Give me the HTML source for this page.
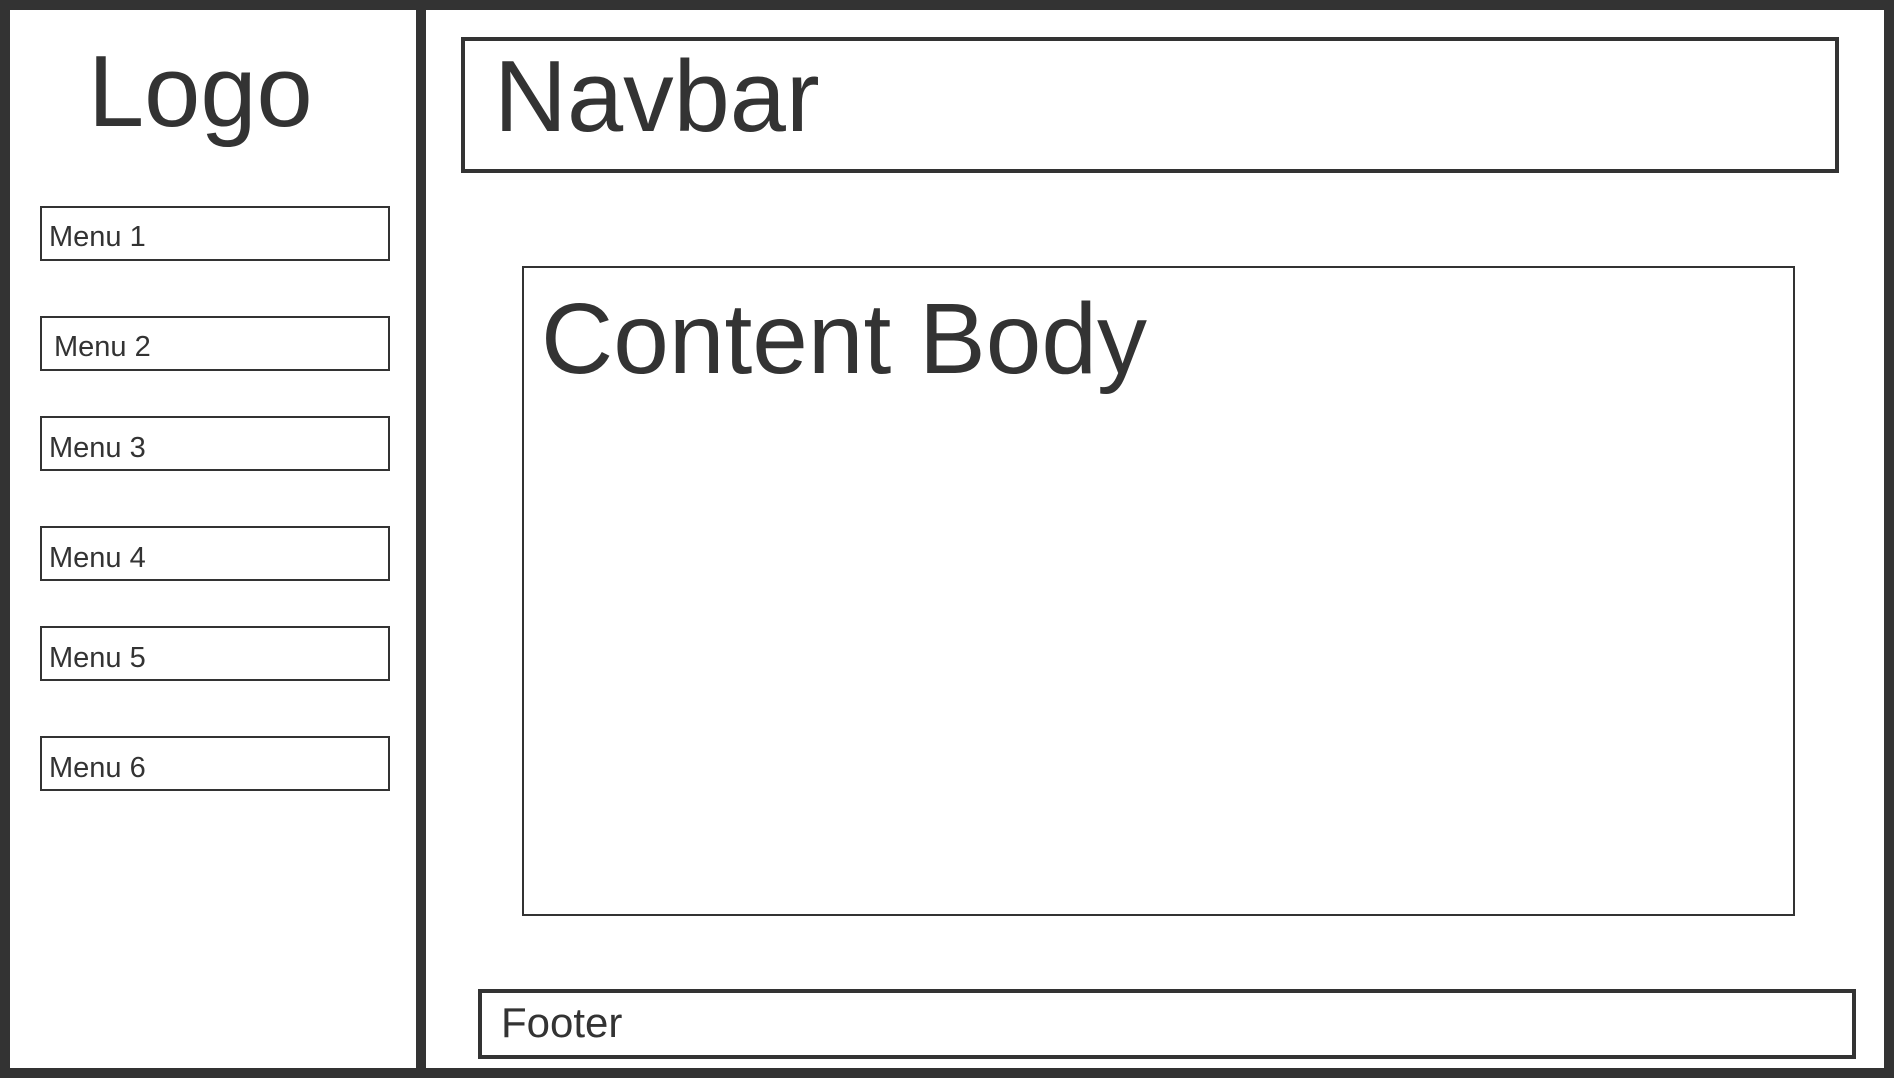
<!DOCTYPE html>
<html><head><meta charset="utf-8"><style>html,body{margin:0;padding:0;background:#fff}svg{display:block}</style></head>
<body>
<svg width="1894" height="1078" xmlns="http://www.w3.org/2000/svg" font-family="Liberation Sans, Arial, sans-serif" fill="#333">
<rect x="5" y="5" width="1884" height="1068" fill="#fff" stroke="#333" stroke-width="10"/>
<rect x="416" y="0" width="10" height="1078" fill="#333"/>
<text x="88" y="126" font-size="101">Logo</text>
<g fill="#fff" stroke="#333" stroke-width="2">
<rect x="41" y="207" width="348" height="53"/>
<rect x="41" y="317" width="348" height="53"/>
<rect x="41" y="417" width="348" height="53"/>
<rect x="41" y="527" width="348" height="53"/>
<rect x="41" y="627" width="348" height="53"/>
<rect x="41" y="737" width="348" height="53"/>
</g>
<g font-size="29">
<text x="49" y="246">Menu 1</text>
<text x="54" y="356">Menu 2</text>
<text x="49" y="457">Menu 3</text>
<text x="49" y="567">Menu 4</text>
<text x="49" y="667">Menu 5</text>
<text x="49" y="777">Menu 6</text>
</g>
<rect x="463" y="39" width="1374" height="132" fill="#fff" stroke="#333" stroke-width="4"/>
<text x="494" y="131" font-size="101">Navbar</text>
<rect x="523" y="267" width="1271" height="648" fill="#fff" stroke="#333" stroke-width="2"/>
<text x="541" y="373" font-size="100">Content Body</text>
<rect x="480" y="991" width="1374" height="66" fill="#fff" stroke="#333" stroke-width="4"/>
<text x="501" y="1037" font-size="42">Footer</text>
</svg>
</body></html>
